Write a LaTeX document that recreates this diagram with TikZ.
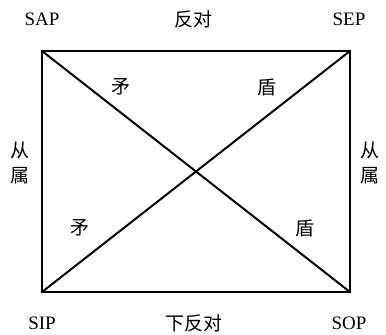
\documentclass[tikz,border=0pt]{standalone}
\usepackage{fontspec}
\setmainfont{Liberation Serif}
\newfontfamily\cjk{Noto Sans CJK SC}
\begin{document}
\begin{tikzpicture}[x=1pt,y=1pt,
  corner/.style={font=\fontsize{19}{21}\selectfont, inner sep=0pt},
  cn/.style={font=\cjk\fontsize{19}{21}\selectfont, inner sep=0pt},
  edge/.style={line width=2pt, line cap=rect}]
\useasboundingbox (0,0) rectangle (386,335);
\coordinate (A) at (42,284);
\coordinate (E) at (350,284);
\coordinate (I) at (42,43);
\coordinate (O) at (350,43);
\draw[edge] (A) -- (E) -- (O) -- (I) -- cycle;
\draw[edge] (A) -- (O);
\draw[edge] (E) -- (I);
\node[corner] (sap) at (42,316) {SAP};
\node[corner] (sep) at (349,316) {SEP};
\node[corner] (sip) at (42,12) {SIP};
\node[corner] (sop) at (349,12) {SOP};
\node[cn] (top) at (193,316) {反对};
\node[cn] (bot) at (194,12) {下反对};
\node[cn, align=center] (left) at (20,172) {从\\[4pt]属};
\node[cn, align=center] (right) at (370,172) {从\\[4pt]属};
\node[cn] (m1) at (121,248) {矛};
\node[cn] (d1) at (267,248) {盾};
\node[cn] (m2) at (80,107) {矛};
\node[cn] (d2) at (305,107) {盾};
\end{tikzpicture}
\end{document}
